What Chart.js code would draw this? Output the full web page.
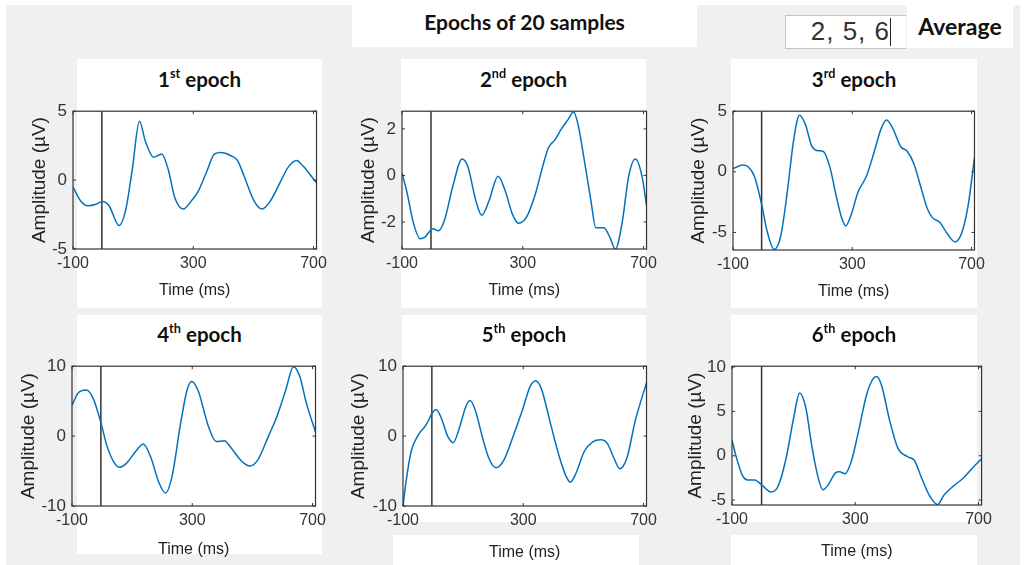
<!DOCTYPE html>
<html>
<head>
<meta charset="utf-8">
<script src="https://cdn.jsdelivr.net/npm/chart.js@4.4.1/dist/chart.umd.min.js"></script>
<style>
  body { margin: 0; width: 1027px; height: 565px; overflow: hidden; background: #fff; position: relative; }
  .bg { position: absolute; left: 6px; top: 5px; width: 1014px; height: 560px; background: #f0f0f0; }
  .white { position: absolute; background: #fff; }
  .ttl { position: absolute; font-family: Lato, "Open Sans", sans-serif; font-weight: bold; color: #111; text-align: center; line-height: 1.2; white-space: nowrap; }
  .ttl sup { font-size: 0.62em; position: relative; top: -0.1em; }
  .plot { position: absolute; }
  .inbox { position: absolute; left: 785px; top: 15px; width: 120px; height: 32px; background: #fff; border: 1px solid #c4c4c4; border-right: none; }
  .intext { position: absolute; right: 16px; top: 0px; font-family: "Liberation Sans", Arial, sans-serif; font-size: 26px; line-height: 31px; color: #333; letter-spacing: 1px; }
  .caret { position: absolute; left: 104px; top: 2px; width: 1px; height: 28px; background: #222; }
</style>
</head>
<body>
<div class="bg"></div>
<div class="white" style="left:352px;top:0;width:345px;height:47px"></div>
<div class="ttl" style="left:352px;top:9px;width:345px;font-size:21px">Epochs of 20 samples</div>
<div class="inbox"><div class="intext">2, 5, 6</div><div class="caret"></div></div>
<div class="white" style="left:907px;top:5px;width:106px;height:43px"></div>
<div class="ttl" style="left:907px;top:13px;width:106px;font-size:23px">Average</div>
<div id="stage"></div>

<script>
// time axis (ms)
const timeMin = -100;
const timeMax = 710;
const timeTicks = [-100, 300, 700];
const markerTime = -4;

// epoch traces (time in ms, amplitude in µV)
const t1 = [-100, -75, -51, -23, -2, 20, 53, 75, 97, 121, 141, 168, 195, 217, 239, 267, 294, 316, 343, 371, 392, 425, 447, 469, 502, 529, 557, 589, 617, 644, 666, 710];
const v1 = [-0.5, -1.5, -1.86, -1.75, -1.55, -1.86, -3.3, -2.2, 0.75, 4.27, 2.8, 1.66, 1.9, 0.75, -1.3, -2.1, -1.5, -0.84, 0.52, 1.9, 2.0, 1.77, 1.43, 0.3, -1.5, -2.1, -1.5, -0.16, 0.98, 1.43, 1.0, -0.2];

const t2 = [-100, -84, -62, -40, -24, -7, 3, 20, 41, 69, 99, 118, 145, 164, 188, 218, 243, 265, 286, 313, 341, 363, 385, 406, 428, 450, 468, 482, 504, 526, 542, 569, 586, 607, 629, 651, 673, 695, 710];
const v2 = [0.1, -0.7, -2.05, -2.72, -2.65, -2.38, -2.29, -2.38, -1.91, -0.43, 0.71, 0.38, -1.1, -1.71, -1.1, -0.03, -0.7, -1.64, -2.05, -1.78, -0.83, 0.24, 1.19, 1.52, 2.0, 2.4, 2.73, 2.26, 0.65, -1.1, -2.25, -2.25, -2.58, -3.16, -2.05, -0.03, 0.71, -0.03, -1.3];

const t3 = [-100, -83, -67, -50, -28, -6, 16, 38, 60, 82, 104, 123, 143, 165, 187, 203, 225, 248, 264, 278, 297, 319, 347, 374, 396, 415, 435, 463, 485, 507, 529, 551, 568, 595, 617, 645, 667, 689, 710];
const v3 = [0.26, 0.44, 0.57, 0.44, -0.39, -2.46, -5.05, -6.4, -5.31, -1.68, 2.72, 4.66, 3.89, 2.07, 1.74, 1.68, 0.39, -2.2, -3.76, -4.46, -3.5, -1.68, -0.39, 1.68, 3.5, 4.27, 3.63, 2.07, 1.68, 0.65, -1.17, -2.98, -3.76, -4.2, -5.05, -5.78, -5.05, -2.72, 1.17];

const t4 = [-100, -78, -53, -29, -4, 15, 36, 56, 80, 113, 137, 162, 189, 211, 233, 260, 282, 298, 320, 353, 380, 407, 429, 462, 492, 517, 555, 582, 610, 637, 658, 680, 710];
const v4 = [4.42, 6.23, 6.6, 5.33, 1.94, -1.22, -3.48, -4.47, -3.93, -2.12, -1.13, -3.02, -6.64, -8.13, -5.73, 1.49, 6.46, 7.81, 6.46, 1.49, -0.77, -0.68, -1.67, -3.48, -4.29, -3.48, 0.14, 2.84, 6.46, 9.93, 8.49, 4.65, 0.6];

const t5 = [-100, -89, -73, -51, -23, -1, 10, 26, 48, 67, 86, 108, 123, 141, 163, 185, 209, 234, 267, 300, 322, 341, 360, 393, 421, 443, 457, 475, 503, 530, 558, 580, 601, 621, 645, 673, 710];
const v5 = [-10, -6.25, -2.2, 0.04, 1.62, 3.42, 3.82, 2.74, 0.04, -0.94, 0.94, 4.09, 5.08, 3.64, 0.04, -3.1, -4.54, -3.55, 0.04, 4.09, 7.01, 7.91, 6.79, 1.39, -3.1, -5.8, -6.6, -5.35, -2.2, -0.85, -0.54, -1.08, -3.1, -4.67, -3.1, 2.29, 7.6];

const t6 = [-100, -86, -65, -49, -27, -1, 26, 48, 74, 101, 119, 139, 160, 181, 195, 214, 235, 249, 267, 288, 310, 337, 358, 369, 385, 411, 438, 470, 492, 513, 540, 567, 588, 620, 652, 684, 710];
const v6 = [1.77, -0.18, -2.3, -2.73, -2.73, -3.37, -4.08, -3.55, -0.53, 4.43, 7.09, 5.5, 0.89, -2.66, -3.83, -3.19, -1.95, -1.81, -2.02, -0.53, 2.66, 6.91, 8.69, 8.94, 7.98, 4.08, 0.89, -0.11, -0.53, -2.3, -4.43, -5.5, -4.43, -3.37, -2.48, -1.24, -0.35];

// y limits and ticks for each epoch
const yMins = [-5, -3.16, -6.45, -10, -10, -5.55];
const yMaxs = [5, 2.76, 5, 10, 10, 10.1];
const yTicks = [[-5, 0, 5], [-2, 0, 2], [-5, 0, 5], [-10, 0, 10], [-10, 0, 10], [-5, 0, 5, 10]];

const epochNums = ["1", "2", "3", "4", "5", "6"];
const epochSups = ["st", "nd", "rd", "th", "th", "th"];

// layout (px on the page)
const plotRects = [[73, 103, 320, 249], [402, 103, 650, 249], [733, 103, 978, 250], [72, 358, 319, 506], [403, 358, 650, 506], [732, 358, 985, 505]];
const panelRects = [[77, 59, 245, 249], [401, 59, 245, 249], [731, 59, 246, 249], [77, 315, 245, 239], [402, 315, 244, 207], [731, 315, 246, 207]];
const extraWhite = [[393, 535, 246, 30], [731, 535, 246, 30]];
const titleTops = [67, 67, 67, 322, 322, 322];
const yTitleGap = [33, 33, 34, 43, 44, 36];
const xTitleGap = [42, 42, 42, 44, 47, 47];

const traces = [[t1, v1], [t2, v2], [t3, v3], [t4, v4], [t5, v5], [t6, v6]];
const axisFont = '"Liberation Sans", Arial, Helvetica, sans-serif';
const Y_W = 75, X_H = 60, PAD_T = 8, PAD_R = 12;

const stage = document.getElementById("stage");

function addBox(r) {
  const d = document.createElement("div");
  d.className = "white";
  d.style.cssText = `left:${r[0]}px;top:${r[1]}px;width:${r[2]}px;height:${r[3]}px`;
  stage.appendChild(d);
}
panelRects.forEach(addBox);
extraWhite.forEach(addBox);

// matlab style box with inward ticks
const boxPlugin = {
  id: "mbox",
  afterDatasetsDraw(chart) {
    const { ctx, chartArea: a, scales } = chart;
    ctx.save();
    ctx.strokeStyle = "#333";
    ctx.lineWidth = 1.2;
    ctx.strokeRect(a.left, a.top, a.right - a.left, a.bottom - a.top);
    ctx.lineWidth = 1;
    ctx.beginPath();
    scales.x.ticks.forEach(t => {
      const px = scales.x.getPixelForValue(t.value);
      ctx.moveTo(px, a.bottom); ctx.lineTo(px, a.bottom - 3);
      ctx.moveTo(px, a.top); ctx.lineTo(px, a.top + 3);
    });
    scales.y.ticks.forEach(t => {
      const py = scales.y.getPixelForValue(t.value);
      ctx.moveTo(a.left, py); ctx.lineTo(a.left + 3, py);
      ctx.moveTo(a.right, py); ctx.lineTo(a.right - 3, py);
    });
    ctx.stroke();
    ctx.restore();
  }
};

traces.forEach(([ts, vs], i) => {
  const [L, T, R, B] = plotRects[i];
  const p = panelRects[i];

  const ttl = document.createElement("div");
  ttl.className = "ttl";
  ttl.style.cssText = `left:${p[0]}px;top:${titleTops[i]}px;width:${p[2]}px;font-size:20.5px`;
  ttl.innerHTML = `${epochNums[i]}<sup>${epochSups[i]}</sup> epoch`;
  stage.appendChild(ttl);

  const wrap = document.createElement("div");
  wrap.className = "plot";
  wrap.style.cssText = `left:${L - Y_W}px;top:${T - PAD_T}px;width:${R - L + Y_W + PAD_R}px;height:${B - T + PAD_T + X_H}px`;
  const cv = document.createElement("canvas");
  wrap.appendChild(cv);
  stage.appendChild(wrap);

  new Chart(cv, {
    type: "line",
    data: {
      datasets: [
        {
          data: ts.map((t, k) => ({ x: t, y: vs[k] })),
          borderColor: "#0072BD",
          borderWidth: 1.5,
          pointRadius: 0,
          cubicInterpolationMode: "monotone"
        },
        {
          data: [{ x: markerTime, y: yMins[i] }, { x: markerTime, y: yMaxs[i] }],
          borderColor: "#333",
          borderWidth: 1.5,
          pointRadius: 0
        }
      ]
    },
    options: {
      responsive: true,
      maintainAspectRatio: false,
      animation: false,
      layout: { padding: { top: PAD_T, right: PAD_R, left: 0, bottom: 0 } },
      plugins: { legend: { display: false }, tooltip: { enabled: false } },
      scales: {
        x: {
          type: "linear",
          min: timeMin,
          max: timeMax,
          afterBuildTicks: s => { s.ticks = timeTicks.map(v => ({ value: v })); },
          afterFit: s => { s.height = X_H; },
          grid: { display: false, drawTicks: false },
          border: { display: false },
          ticks: { font: { family: axisFont, size: 16 }, color: "#333", padding: 5, maxRotation: 0, autoSkip: false },
          title: { display: true, text: "Time (ms)", color: "#222", font: { family: axisFont, size: 16 }, padding: { top: 0, bottom: X_H - xTitleGap[i] - 9.6 } }
        },
        y: {
          min: yMins[i],
          max: yMaxs[i],
          afterBuildTicks: s => { s.ticks = yTicks[i].map(v => ({ value: v })); },
          afterFit: s => { s.width = Y_W; },
          grid: { display: false, drawTicks: false },
          border: { display: false },
          ticks: { font: { family: axisFont, size: 17 }, color: "#333", padding: 6 },
          title: { display: true, text: "Amplitude (µV)", color: "#222", font: { family: axisFont, size: 19 }, padding: { top: Y_W - yTitleGap[i] - 11.4, bottom: 0 } }
        }
      }
    },
    plugins: [boxPlugin]
  });
});
</script>
</body>
</html>
